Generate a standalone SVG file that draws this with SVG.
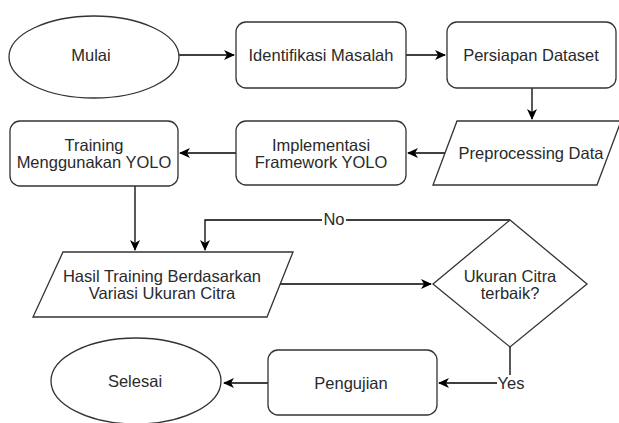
<svg xmlns="http://www.w3.org/2000/svg" width="619" height="423" viewBox="0 0 619 423">
<defs>
<marker id="arr" markerUnits="userSpaceOnUse" markerWidth="12" markerHeight="10" refX="10" refY="5" orient="auto">
<path d="M0,0 L11,5 L0,10 L3,5 z" fill="#000"/>
</marker>
<style>
.s{fill:#fff;stroke:#333;stroke-width:1.3}
.t{font-family:"Liberation Sans",Arial,sans-serif;font-size:16.5px;fill:#2a2a2a;text-anchor:middle}
.c{fill:none;stroke:#000;stroke-width:1.3}
</style>
</defs>
<rect width="619" height="423" fill="#fff"/>
<g id="connectors">
<path class="c" d="M179,55 H234" marker-end="url(#arr)"/>
<path class="c" d="M406,55 H445" marker-end="url(#arr)"/>
<path class="c" d="M532,88 V119" marker-end="url(#arr)"/>
<path class="c" d="M445,153 H408" marker-end="url(#arr)"/>
<path class="c" d="M236,153 H180" marker-end="url(#arr)"/>
<path class="c" d="M135,186 V250" marker-end="url(#arr)"/>
<path class="c" d="M280,284 H431" marker-end="url(#arr)"/>
<path class="c" d="M510,220 H205 V250" marker-end="url(#arr)"/>
<path class="c" d="M510,347 V383 H439" marker-end="url(#arr)"/>
<path class="c" d="M268,383 H224" marker-end="url(#arr)"/>
<rect x="322" y="211" width="24" height="16" fill="#fff"/>
<text class="t" x="334" y="225">No</text>
<rect x="497" y="375" width="29" height="16" fill="#fff"/>
<text class="t" x="511" y="389">Yes</text>
</g>
<g id="mulai">
<ellipse class="s" cx="94" cy="57" rx="85" ry="41"/>
<text class="t" x="91" y="61">Mulai</text>
</g>
<g id="identifikasi">
<rect class="s" x="236" y="22" width="170" height="66" rx="10"/>
<text class="t" x="321" y="61">Identifikasi Masalah</text>
</g>
<g id="persiapan">
<rect class="s" x="447" y="22" width="169" height="66" rx="10"/>
<text class="t" x="531" y="61">Persiapan Dataset</text>
</g>
<g id="preprocessing">
<polygon class="s" points="457,121 621,121 597,185 433,185"/>
<text class="t" x="531" y="159">Preprocessing Data</text>
</g>
<g id="implementasi">
<rect class="s" x="236" y="121" width="170" height="64" rx="10"/>
<text class="t" x="321" y="151">Implementasi</text>
<text class="t" x="321" y="168">Framework YOLO</text>
</g>
<g id="training">
<rect class="s" x="10" y="121" width="168" height="65" rx="10"/>
<text class="t" x="94" y="151">Training</text>
<text class="t" x="94" y="168">Menggunakan YOLO</text>
</g>
<g id="hasil">
<polygon class="s" points="63,252 293,252 267,317 33,317"/>
<text class="t" x="162" y="282">Hasil Training Berdasarkan</text>
<text class="t" x="162" y="299">Variasi Ukuran Citra</text>
</g>
<g id="keputusan">
<polygon class="s" points="510,220 587,284 510,347 433,284"/>
<text class="t" x="510" y="282">Ukuran Citra</text>
<text class="t" x="510" y="299">terbaik?</text>
</g>
<g id="pengujian">
<rect class="s" x="268" y="350" width="169" height="65" rx="10"/>
<text class="t" x="351" y="389">Pengujian</text>
</g>
<g id="selesai">
<ellipse class="s" cx="136" cy="381" rx="85" ry="43"/>
<text class="t" x="135" y="387">Selesai</text>
</g>
</svg>
